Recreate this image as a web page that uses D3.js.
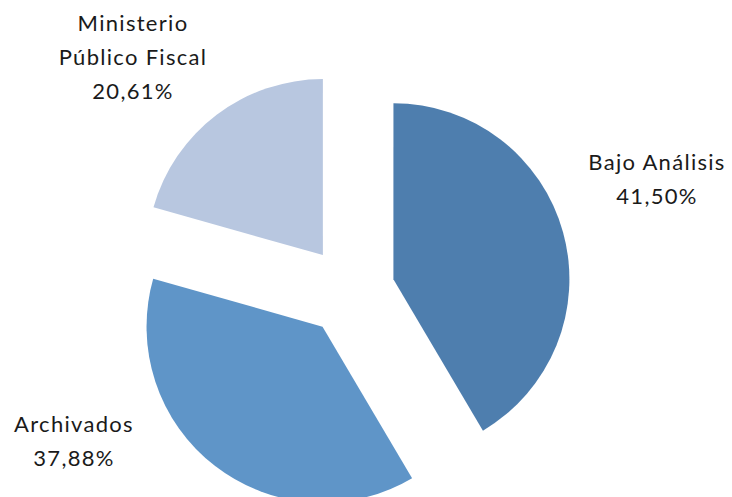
<!DOCTYPE html>
<html>
<head>
<meta charset="utf-8">
<script src="https://cdn.jsdelivr.net/npm/d3@7"></script>
<style>
  html, body { margin: 0; padding: 0; background: #fff; }
  svg { display: block; }
  text { font-family: Lato, "Open Sans", sans-serif; fill: #1a1a1a; }
</style>
</head>
<body>
<svg id="chart" width="732" height="497"></svg>
<script>
// Distribution of cases by status (percent)
const categories = ["Bajo Análisis", "Archivados", "Ministerio Público Fiscal"];
const values = [41.50, 37.88, 20.61];
const labelLines = [["Bajo Análisis"], ["Archivados"], ["Ministerio", "Público Fiscal"]];
const colors = ["#4e7eae", "#5f95c8", "#b8c7e0"];

const width = 732, height = 497;
const cx = 350, cy = 291;      // pie centre
const radius = 176;
const explode = 45;            // slice offset from centre

// label anchor (centre x, first baseline y) for each slice
const labelPos = [[657, 170], [74, 432], [133, 31]];
const lineGap = 34;

const svg = d3.select("#chart");
const fmt = v => d3.format(".2f")(v).replace(".", ",") + "%";

const pie = d3.pie().sort(null).value(d => d)(values);
const arc = d3.arc().innerRadius(0).outerRadius(radius);

const g = svg.append("g").attr("transform", `translate(${cx},${cy})`);

g.selectAll("path")
  .data(pie)
  .join("path")
  .attr("d", arc)
  .attr("fill", (d, i) => colors[i])
  .attr("transform", d => {
    const a = (d.startAngle + d.endAngle) / 2;
    return `translate(${explode * Math.sin(a)},${-explode * Math.cos(a)})`;
  });

const labels = svg.selectAll("text.lbl")
  .data(pie)
  .join("text")
  .attr("class", "lbl")
  .attr("text-anchor", "middle")
  .style("font-size", "22px")
  .style("letter-spacing", "1.3px");

labels.each(function(d, i) {
  const t = d3.select(this);
  const lines = labelLines[i].concat([fmt(values[i])]);
  lines.forEach((ln, j) => {
    t.append("tspan")
      .attr("x", labelPos[i][0])
      .attr("y", labelPos[i][1] + j * lineGap)
      .text(ln);
  });
});
</script>
</body>
</html>
